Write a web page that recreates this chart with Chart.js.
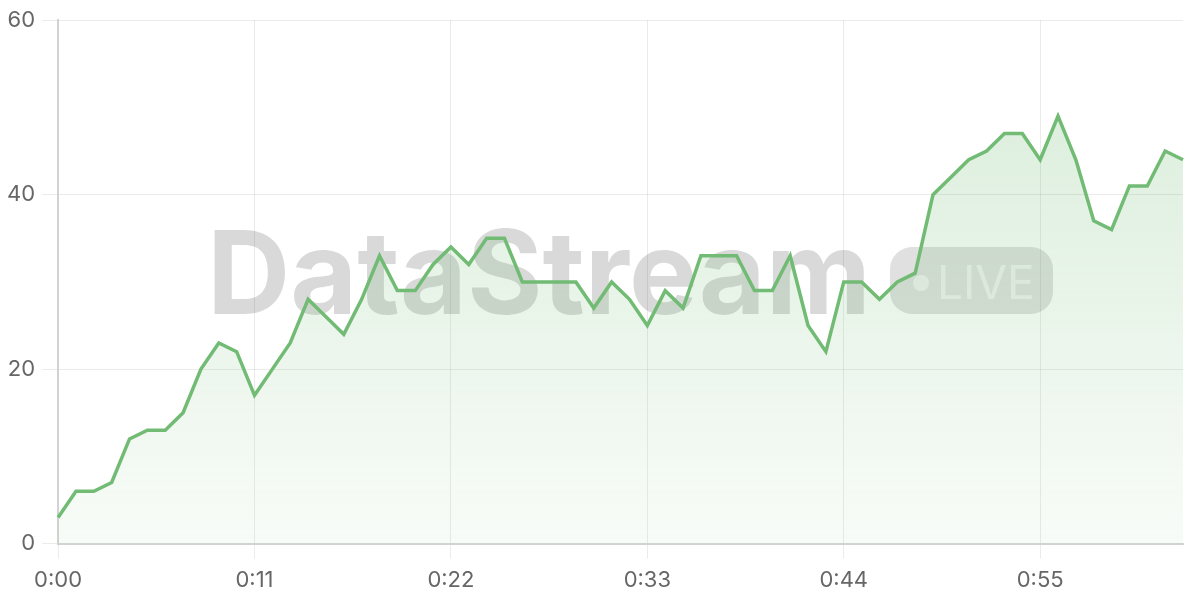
<!DOCTYPE html>
<html>
<head>
<meta charset="utf-8">
<script src="https://cdn.jsdelivr.net/npm/chart.js@4.4.1/dist/chart.umd.min.js"></script>
<style>
  html, body { margin:0; padding:0; background:#fff; }
  #wrap { width:1200px; height:600px; position:relative; }
</style>
</head>
<body>
<div id="wrap"><canvas id="chart"></canvas></div>
<script>
// one reading per second, 0:00 .. 1:03
const values = [3,6,6,7,12,13,13,15,20,23,22,17,20,23,28,26,24,28,33,29,29,32,34,32,35,35,30,30,30,30,27,30,28,25,29,27,33,33,33,29,29,33,25,22,30,30,28,30,31,40,42,44,45,47,47,44,49,44,37,36,41,41,45,44];
const labels = values.map((_, i) => Math.floor(i/60) + ':' + String(i%60).padStart(2,'0'));
const labelEvery = 11;
const yTicks = [0, 20, 40, 60];
const FONT = 'Inter, "Liberation Sans", Arial, sans-serif';

const watermark = {
  id:'watermark',
  beforeDatasetsDraw(chart){
    const {ctx} = chart;
    ctx.save();
    ctx.font = 'bold 116px ' + FONT;
    ctx.fillStyle = 'rgba(0,0,0,0.15)';
    ctx.textBaseline = 'alphabetic';
    ctx.textAlign = 'left';
    const w = ctx.measureText('DataStream').width;
    ctx.translate(207, 314);
    ctx.scale(664 / w, 1);
    ctx.fillText('DataStream', 0, 0);
    ctx.setTransform(1,0,0,1,0,0);
    ctx.scale(chart.currentDevicePixelRatio, chart.currentDevicePixelRatio);
    // pill
    ctx.fillStyle = 'rgba(0,0,0,0.12)';
    ctx.beginPath();
    ctx.roundRect(890, 247, 163, 67, 22);
    ctx.fill();
    ctx.fillStyle = 'rgba(255,255,255,0.55)';
    ctx.beginPath();
    ctx.arc(921, 283, 8, 0, Math.PI*2);
    ctx.fill();
    ctx.font = '46px ' + FONT;
    ctx.fillText('LIVE', 937, 299);
    ctx.restore();
  }
};

const ctx = document.getElementById('chart').getContext('2d');
new Chart(ctx, {
  type:'line',
  data:{
    labels,
    datasets:[{
      data: values,
      borderColor:'#72bb74',
      borderWidth:3.5,
      pointRadius:0,
      tension:0,
      fill:true,
      backgroundColor:(c)=>{
        const a = c.chart.chartArea;
        if (!a) return 'rgba(114,187,116,0.15)';
        const g = c.chart.ctx.createLinearGradient(0, a.top, 0, a.bottom);
        g.addColorStop(0, 'rgba(114,187,116,0.28)');
        g.addColorStop(1, 'rgba(114,187,116,0.05)');
        return g;
      }
    }]
  },
  options:{
    responsive:true,
    maintainAspectRatio:false,
    animation:false,
    layout:{ padding:{ top:6, right:17, left:0, bottom:-3 } },
    plugins:{ legend:{ display:false }, tooltip:{ enabled:false } },
    scales:{
      x:{
        grid:{ color:'rgba(0,0,0,0.08)', tickLength:15 },
        border:{ color:'#d2d2d2', width:2 },
        ticks:{
          autoSkip:false, maxRotation:0, padding:9, color:'#666',
          font:{ family:FONT, size:22 },
          callback:(v, i)=> i % labelEvery === 0 ? labels[i] : null
        }
      },
      y:{
        min:yTicks[0], max:yTicks[yTicks.length-1],
        afterBuildTicks:(s)=>{ s.ticks = yTicks.map(v=>({ value:v })); },
        grid:{ color:'rgba(0,0,0,0.08)', tickLength:16 },
        border:{ color:'#d2d2d2', width:2 },
        ticks:{ padding:7, color:'#666', font:{ family:FONT, size:22 } }
      }
    }
  },
  plugins:[watermark]
});
</script>
</body>
</html>
